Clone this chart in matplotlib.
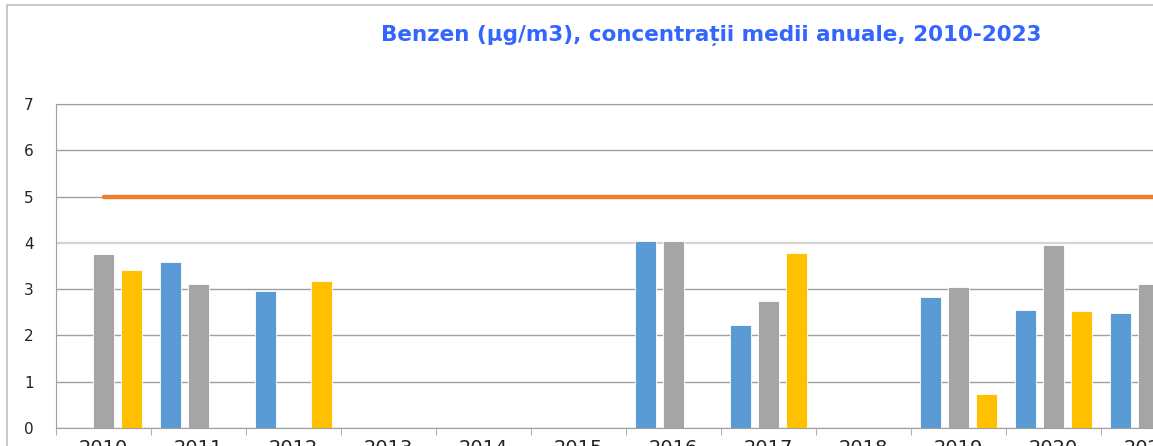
import numpy as np
import matplotlib.pyplot as plt
from matplotlib.patches import Rectangle

# Date (valori lipsa = nan)
ani = ['2010', '2011', '2012', '2013', '2014', '2015', '2016',
       '2017', '2018', '2019', '2020', '2021', '2022', '2023']
nan = np.nan
statia_1 = [nan, 3.59, 2.95, nan, nan, nan, 4.04, 2.22, nan, 2.84, 2.56, 2.49, nan, nan]
statia_2 = [3.75, 3.11, nan, nan, nan, nan, 4.05, 2.74, nan, 3.05, 3.95, 3.12, nan, nan]
statia_3 = [3.41, nan, 3.17, nan, nan, nan, nan, 3.78, nan, 0.73, 2.53, nan, nan, nan]
valoare_limita = [5] * len(ani)

titlu = 'Benzen (µg/m3), concentrații medii anuale, 2010-2023'

fig = plt.figure(figsize=(11.53, 4.46), dpi=100)
ax = fig.add_axes([56 / 1153, 18 / 446, 1097 / 1153, 324 / 446])

x = np.arange(len(ani))
w = 0.23
off = 0.295
ax.bar(x - off, statia_1, w, color='#5B9BD5', edgecolor='white', linewidth=0.6, zorder=3)
ax.bar(x, statia_2, w, color='#A5A5A5', edgecolor='white', linewidth=0.6, zorder=3)
ax.bar(x + off, statia_3, w, color='#FFC000', edgecolor='white', linewidth=0.6, zorder=3)
ax.plot(x, valoare_limita, color='#ED7D31', linewidth=3.2, solid_capstyle='round', zorder=4)

ax.set_ylim(0, 7)
ax.set_yticks(range(0, 8))
ax.set_xticks(x)
ax.set_xticklabels(ani)
ax.set_xticks(np.arange(-0.5, len(ani), 1), minor=True)
# graficul original e taiat la dreapta, dupa 2021
ax.set_xlim(-0.5, (1153 - 56) / 95 - 0.5)
ax.tick_params(axis='x', which='major', length=0, pad=8, labelsize=14, colors='#222222')
ax.tick_params(axis='x', which='minor', length=5, color='#A0A0A0')
ax.tick_params(axis='y', length=0, pad=16, labelsize=11, colors='#222222')

ax.grid(axis='y', color='#A0A0A0', linewidth=1, zorder=0)
ax.get_ygridlines()[4].set_color('#D4D4D4')
ax.get_ygridlines()[4].set_linewidth(1.6)
for s in ['left', 'bottom', 'top']:
    ax.spines[s].set_color('#A0A0A0')
ax.spines['right'].set_visible(False)

fig.text(711 / 1153, 1 - 35 / 446, titlu, ha='center', va='center',
         fontsize=15.5, fontweight='bold', color='#3366FF')

# chenarul exterior al graficului
fig.patches.append(Rectangle((7 / 1153, -0.1), 1.2, 1 - 5 / 446 + 0.1,
                             transform=fig.transFigure, fill=False,
                             edgecolor='#BFBFBF', linewidth=1.2))

plt.savefig('out.png', dpi=100)
